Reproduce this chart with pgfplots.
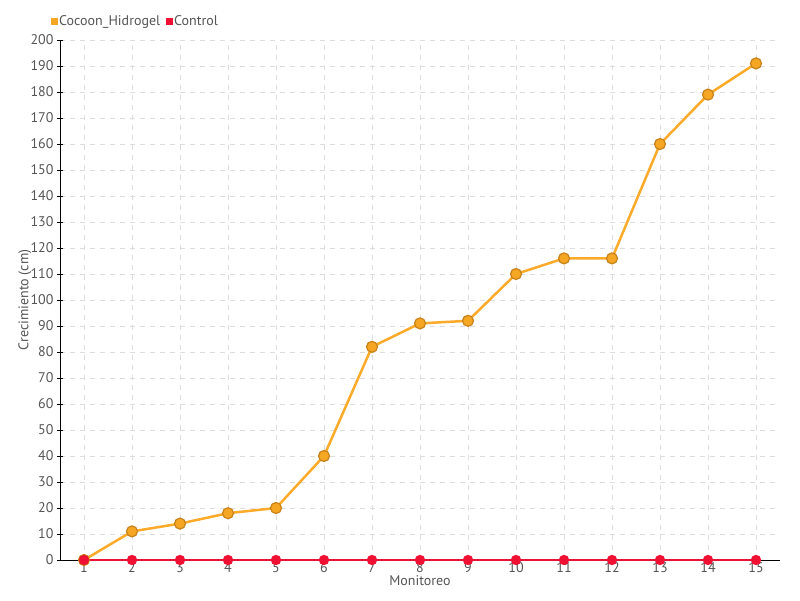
\documentclass[border=0pt]{standalone}
\usepackage{fontspec}
\setmainfont{PT Sans}
\usepackage{pgfplots}
\pgfplotsset{compat=1.18}
\definecolor{orangeL}{HTML}{FBAA2A}
\definecolor{orangeM}{HTML}{F5A623}
\definecolor{orangeE}{HTML}{C8821A}
\definecolor{redC}{HTML}{EE1133}
\definecolor{txt}{HTML}{555555}
\definecolor{gridc}{HTML}{DDDDDD}
\begin{document}
\begin{tikzpicture}[x=1pt,y=1pt]
\useasboundingbox (0,0) rectangle (800,600);
\begin{axis}[
  at={(60pt,40pt)}, anchor=south west,
  scale only axis, width=720pt, height=520pt,
  xmin=0.5, xmax=15.5, ymin=0, ymax=200,
  axis x line*=bottom, axis y line*=left,
  axis line style={black, line width=1pt},
  xtick={1,...,15}, ytick distance=10,
  major tick length=6pt, tick align=center,
  x tick style={draw=none},
  y tick style={black, line width=0.8pt},
  grid=major,
  major grid style={gridc, dash pattern=on 5pt off 5pt, line width=0.8pt},
  /pgf/number format/assume math mode=true,
  ticklabel style={font=\fontsize{14}{14}\selectfont, text=txt},
  xticklabel style={yshift=4pt},
  xlabel={Monitoreo}, ylabel={Crecimiento (cm)},
  label style={font=\fontsize{14}{14}\selectfont, text=txt},
  xlabel style={at={(axis description cs:0.5,0)}, anchor=center, yshift=-21pt},
  ylabel style={at={(axis description cs:0,0.5)}, anchor=center, yshift=35pt},
  legend style={draw=none, fill=none, at={(-0.0167,1.0365)}, anchor=west,
    font=\fontsize{14}{14}\selectfont, text=txt, legend columns=2,
    /tikz/every even column/.append style={column sep=4pt}},
  legend cell align=left,
  clip=false,
]
\addlegendimage{only marks, mark=square*, mark size=3pt, color=orangeM}
\addlegendentry{Cocoon\_Hidrogel}
\addlegendimage{only marks, mark=square*, mark size=3pt, color=redC}
\addlegendentry{Control}
\addplot[forget plot, color=orangeL, line width=2.5pt, mark=*, mark size=5.5pt,
  mark options={fill=orangeM, draw=orangeE, line width=1.2pt}]
  coordinates {(1,0) (2,11) (3,14) (4,18) (5,20) (6,40) (7,82) (8,91) (9,92) (10,110) (11,116) (12,116) (13,160) (14,179) (15,191)};
\addplot[forget plot, color=redC, line width=1.3pt, mark=*, mark size=4.5pt,
  mark options={fill=redC, draw=redC}]
  coordinates {(1,0) (2,0) (3,0) (4,0) (5,0) (6,0) (7,0) (8,0) (9,0) (10,0) (11,0) (12,0) (13,0) (14,0) (15,0)};
\end{axis}
\end{tikzpicture}
\end{document}
